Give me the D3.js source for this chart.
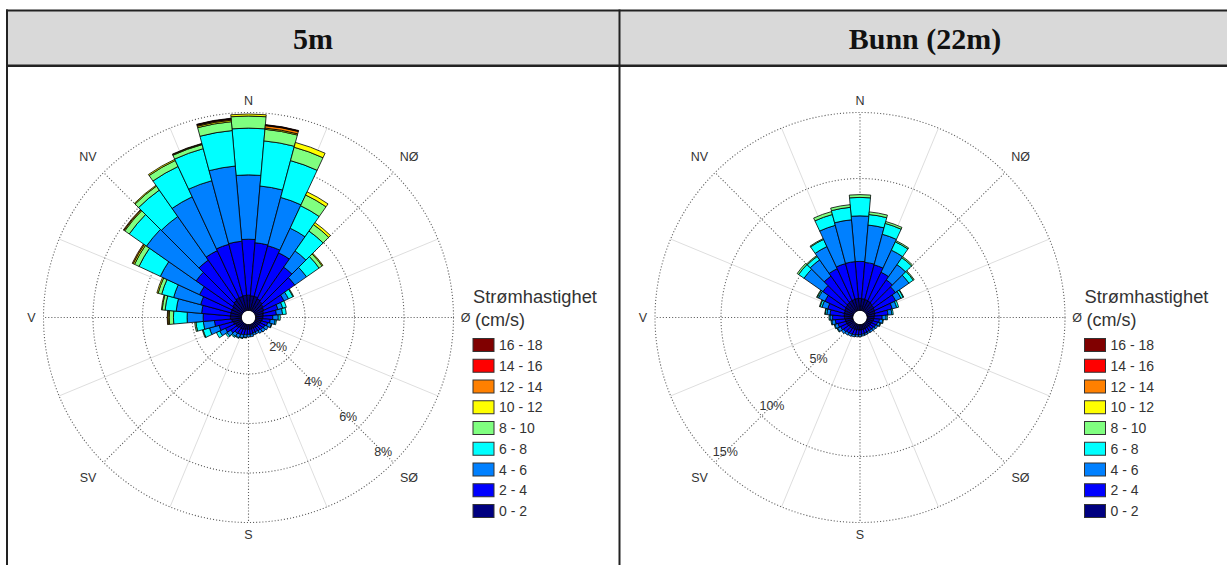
<!DOCTYPE html>
<html>
<head>
<meta charset="utf-8">
<script src="https://cdnjs.cloudflare.com/ajax/libs/d3/7.8.5/d3.min.js"></script>
<style>
body { margin: 0; background: #fff; }
text { font-family: "Liberation Sans", Arial, sans-serif; }
</style>
</head>
<body>
<div id="chart"></div>
<script>
// direction sectors (degrees, clockwise from north) and speed classes
var directions = [0,10,20,30,40,50,60,70,80,90,100,110,120,130,140,150,160,170,180,190,200,210,220,230,240,250,260,270,280,290,300,310,320,330,340,350];
var speedBins = ["0 - 2", "2 - 4", "4 - 6", "6 - 8", "8 - 10", "10 - 12", "12 - 14", "14 - 16", "16 - 18"];
var binColors = ["#000080", "#0000ff", "#0080ff", "#00ffff", "#80ff80", "#ffff00", "#ff8000", "#ff0000", "#800000"];
var compassLabels = ["N", "NØ", "Ø", "SØ", "S", "SV", "V", "NV"];
var ticks5m = [2, 4, 6, 8];
var ticks22m = [5, 10, 15];

// 5m, percent of time per direction and speed class
var v5_0_2   = [0.62,0.60,0.60,0.55,0.50,0.45,0.40,0.35,0.32,0.30,0.28,0.25,0.22,0.20,0.20,0.18,0.18,0.20,0.20,0.20,0.22,0.25,0.25,0.30,0.30,0.35,0.40,0.45,0.45,0.45,0.45,0.50,0.55,0.60,0.60,0.62];
var v5_2_4   = [2.26,2.15,2.12,2.05,1.70,1.55,0.90,0.60,0.53,0.40,0.32,0.27,0.23,0.22,0.18,0.18,0.18,0.20,0.20,0.22,0.23,0.23,0.25,0.30,0.45,0.60,0.70,1.10,1.17,1.27,1.45,1.80,2.00,2.10,2.18,2.19];
var v5_4_6   = [2.60,2.30,2.02,1.10,0.80,0.58,0.20,0.20,0.25,0.22,0.20,0.16,0.15,0.13,0.12,0.09,0.09,0.10,0.10,0.11,0.13,0.14,0.15,0.18,0.25,0.40,0.45,0.65,1.03,1.13,1.75,2.45,2.15,2.40,2.66,3.05];
var v5_6_8   = [1.89,1.83,1.54,1.00,0.98,0.62,0.20,0.15,0.15,0.08,0.05,0.02,0,0,0,0,0,0,0,0.02,0.02,0.03,0.05,0.07,0.15,0.27,0.30,0.55,0.45,0.50,0.95,0.85,1.30,1.35,1.34,1.44];
var v5_8_10  = [0.49,0.47,0.56,0.48,0.32,0.15,0.03,0,0,0,0,0,0,0,0,0,0,0,0,0,0,0,0,0,0,0.03,0.05,0.17,0.12,0.15,0.20,0.22,0.20,0.27,0.17,0.36];
var v5_10_12 = [0.08,0.05,0.20,0.14,0.10,0.04,0,0,0,0,0,0,0,0,0,0,0,0,0,0,0,0,0,0,0,0,0,0.05,0.03,0.05,0.06,0.04,0.04,0.05,0.03,0.06];
var v5_12_14 = [0,0.10,0,0,0,0,0,0,0,0,0,0,0,0,0,0,0,0,0,0,0,0,0,0,0,0,0,0.03,0,0,0.04,0.03,0,0,0.02,0.04];
var v5_14_16 = [0,0.02,0,0,0,0,0,0,0,0,0,0,0,0,0,0,0,0,0,0,0,0,0,0,0,0,0,0,0,0,0,0,0,0,0,0.02];
var v5_16_18 = [0,0.02,0,0,0,0,0,0,0,0,0,0,0,0,0,0,0,0,0,0,0,0,0,0,0,0,0,0,0,0,0,0,0,0,0,0.02];

// Bunn (22m)
var v22_0_2   = [0.92,0.90,0.88,0.85,0.80,0.75,0.70,0.65,0.60,0.55,0.50,0.45,0.42,0.40,0.38,0.38,0.40,0.40,0.42,0.42,0.45,0.45,0.48,0.50,0.55,0.58,0.60,0.65,0.68,0.70,0.75,0.80,0.85,0.88,0.90,0.92];
var v22_2_4   = [2.80,2.76,2.72,2.40,2.15,2.00,1.75,1.35,1.00,0.60,0.45,0.40,0.36,0.32,0.32,0.30,0.32,0.35,0.36,0.38,0.40,0.43,0.44,0.50,0.55,0.62,0.75,0.90,1.07,1.30,1.65,2.10,2.45,2.67,2.80,2.80];
var v22_4_6   = [3.45,2.84,2.40,1.85,1.41,1.25,0.45,0.35,0.30,0.30,0.25,0.20,0.17,0.16,0.15,0.14,0.13,0.13,0.14,0.15,0.15,0.17,0.18,0.20,0.25,0.25,0.27,0.20,0.25,0.45,0.55,1.75,1.50,1.85,3.00,3.18];
var v22_6_8   = [1.40,0.80,0.85,0.70,0.64,0.40,0.18,0.15,0.10,0.10,0.05,0.05,0,0,0,0,0,0,0,0,0,0,0,0,0.05,0.05,0.06,0.07,0.12,0.15,0.10,0.50,0.32,0.60,0.85,0.95];
var v22_8_10  = [0.21,0.20,0.15,0.10,0.10,0.08,0.04,0,0,0,0,0,0,0,0,0,0,0,0,0,0,0,0,0,0,0,0,0,0.03,0.05,0.05,0.13,0.08,0.07,0.23,0.20];
var v22_10_12 = [0,0,0,0,0,0,0,0,0,0,0,0,0,0,0,0,0,0,0,0,0,0,0,0,0,0,0,0,0,0,0,0,0,0,0,0];
var v22_12_14 = [0,0,0,0,0,0,0,0,0,0,0,0,0,0,0,0,0,0,0,0,0,0,0,0,0,0,0,0,0,0,0,0,0,0,0,0];
var v22_14_16 = [0,0,0,0,0,0,0,0,0,0,0,0,0,0,0,0,0,0,0,0,0,0,0,0,0,0,0,0,0,0,0,0,0,0,0,0];
var v22_16_18 = [0,0,0,0,0,0,0,0,0,0,0,0,0,0,0,0,0,0,0,0,0,0,0,0,0,0,0,0,0,0,0,0,0,0,0,0];

var W = 1227, H = 565;
var cy = 317.5, r0 = 7, R = 205;
var rad = Math.PI / 180;

var svg = d3.select("#chart").append("svg")
    .attr("width", W)
    .attr("height", H);

// table frame
svg.append("rect")
    .attr("x", 7).attr("y", 11)
    .attr("width", 1230).attr("height", 54)
    .attr("fill", "#d9d9d9");
var frame = svg.append("g").attr("stroke", "#222").attr("fill", "none");
frame.append("line").attr("x1", 6).attr("x2", W).attr("y1", 10.5).attr("y2", 10.5).attr("stroke-width", 2);
frame.append("line").attr("x1", 6).attr("x2", W).attr("y1", 65.8).attr("y2", 65.8).attr("stroke-width", 2.5);
frame.append("line").attr("x1", 7).attr("x2", 7).attr("y1", 9.5).attr("y2", H).attr("stroke-width", 2);
frame.append("line").attr("x1", 619.5).attr("x2", 619.5).attr("y1", 9.5).attr("y2", H).attr("stroke-width", 2);

var panels = [
    {title: "5m", tx: 313, cx: 248.5, series: [v5_0_2, v5_2_4, v5_4_6, v5_6_8, v5_8_10, v5_10_12, v5_12_14, v5_14_16, v5_16_18], ticks: ticks5m, max: 8, tickAngle: 135},
    {title: "Bunn (22m)", tx: 925, cx: 860, series: [v22_0_2, v22_2_4, v22_4_6, v22_6_8, v22_8_10, v22_10_12, v22_12_14, v22_14_16, v22_16_18], ticks: ticks22m, max: 15, tickAngle: 225}
];

panels.forEach(function(p) {
    svg.append("text")
        .attr("x", p.tx).attr("y", 49)
        .attr("text-anchor", "middle")
        .style("font-family", "'Liberation Serif', 'Times New Roman', serif")
        .style("font-weight", "bold")
        .style("font-size", "30px")
        .attr("fill", "#111")
        .text(p.title);

    var g = svg.append("g").attr("transform", "translate(" + p.cx + "," + cy + ")");
    drawRose(g, p);
    drawLegend(svg.append("g").attr("transform", "translate(" + (p.cx + 224.5) + ",0)"));
});

function drawRose(g, p) {
    var r = d3.scaleLinear().domain([0, p.max]).range([r0, R]);

    // light solid spokes between the compass points
    g.selectAll("line.minor").data([22.5, 67.5, 112.5, 157.5, 202.5, 247.5, 292.5, 337.5])
        .enter().append("line")
        .attr("x1", 0).attr("y1", 0)
        .attr("x2", function(d) { return R * Math.sin(d * rad); })
        .attr("y2", function(d) { return -R * Math.cos(d * rad); })
        .attr("stroke", "#dedede")
        .attr("stroke-width", 1);

    // dotted rings
    g.selectAll("circle.ring").data(p.ticks)
        .enter().append("circle")
        .attr("r", function(d) { return r(d); })
        .attr("fill", "none")
        .attr("stroke", "#606060")
        .attr("stroke-width", 1.1)
        .attr("stroke-dasharray", "1.1,2");

    // dotted spokes at compass points
    g.selectAll("line.major").data([0, 45, 90, 135, 180, 225, 270, 315])
        .enter().append("line")
        .attr("x1", function(d) { return r0 * Math.sin(d * rad); })
        .attr("y1", function(d) { return -r0 * Math.cos(d * rad); })
        .attr("x2", function(d) { return R * Math.sin(d * rad); })
        .attr("y2", function(d) { return -R * Math.cos(d * rad); })
        .attr("stroke", "#606060")
        .attr("stroke-width", 1.1)
        .attr("stroke-dasharray", "1.1,2");

    // stacked sectors
    var rows = directions.map(function(dir, i) {
        var row = {dir: dir};
        speedBins.forEach(function(b, k) { row[b] = p.series[k][i]; });
        return row;
    });
    var layers = d3.stack().keys(speedBins)(rows);
    var segs = [];
    layers.forEach(function(layer, k) {
        layer.forEach(function(d) {
            if (d[1] > d[0]) segs.push({k: k, dir: d.data.dir, y0: d[0], y1: d[1]});
        });
    });
    segs.sort(function(a, b) { return a.dir - b.dir || a.k - b.k; });

    var arc = d3.arc()
        .innerRadius(function(d) { return r(d.y0); })
        .outerRadius(function(d) { return r(d.y1); })
        .startAngle(function(d) { return (d.dir - 5) * rad; })
        .endAngle(function(d) { return (d.dir + 5) * rad; });

    g.selectAll("path.bar").data(segs)
        .enter().append("path")
        .attr("d", arc)
        .attr("fill", function(d) { return binColors[d.k]; })
        .attr("stroke", "#000")
        .attr("stroke-width", 0.8)
        .attr("stroke-linejoin", "round");

    g.append("circle").attr("r", r0 - 0.6).attr("fill", "#fff");

    // ring labels
    g.selectAll("text.tick").data(p.ticks)
        .enter().append("text")
        .attr("x", function(d) { return (r(d) - 14.5) * Math.sin(p.tickAngle * rad); })
        .attr("y", function(d) { return -(r(d) - 14.5) * Math.cos(p.tickAngle * rad); })
        .attr("text-anchor", "middle")
        .attr("dominant-baseline", "central")
        .style("font-size", "12.5px")
        .attr("fill", "#333")
        .text(function(d) { return d + "%"; });

    // compass labels
    g.selectAll("text.dir").data(compassLabels)
        .enter().append("text")
        .attr("x", function(d, i) { var rr = i % 2 ? 227 : 217; return rr * Math.sin(i * 45 * rad); })
        .attr("y", function(d, i) { var rr = i % 2 ? 227 : 217; return -rr * Math.cos(i * 45 * rad); })
        .attr("text-anchor", "middle")
        .attr("dominant-baseline", "central")
        .style("font-size", "12.5px")
        .attr("fill", "#333")
        .text(function(d) { return d; });
}

function drawLegend(lg) {
    lg.append("text")
        .attr("x", 0).attr("y", 303)
        .style("font-size", "18.3px")
        .attr("fill", "#333")
        .text("Strømhastighet");
    lg.append("text")
        .attr("x", 2).attr("y", 326)
        .style("font-size", "18px")
        .attr("fill", "#333")
        .text("(cm/s)");

    var items = speedBins.slice().reverse();
    var colors = binColors.slice().reverse();
    var rowY = d3.scalePoint().domain(items).range([345, 511]);

    lg.selectAll("rect.key").data(items)
        .enter().append("rect")
        .attr("x", 0)
        .attr("y", function(d) { return rowY(d) - 6.5; })
        .attr("width", 21).attr("height", 13)
        .attr("fill", function(d, i) { return colors[i]; })
        .attr("stroke", "#333")
        .attr("stroke-width", 1);

    lg.selectAll("text.key").data(items)
        .enter().append("text")
        .attr("x", 26)
        .attr("y", function(d) { return rowY(d); })
        .attr("dominant-baseline", "central")
        .style("font-size", "14px")
        .attr("fill", "#333")
        .text(function(d) { return d; });
}
</script>
</body>
</html>
